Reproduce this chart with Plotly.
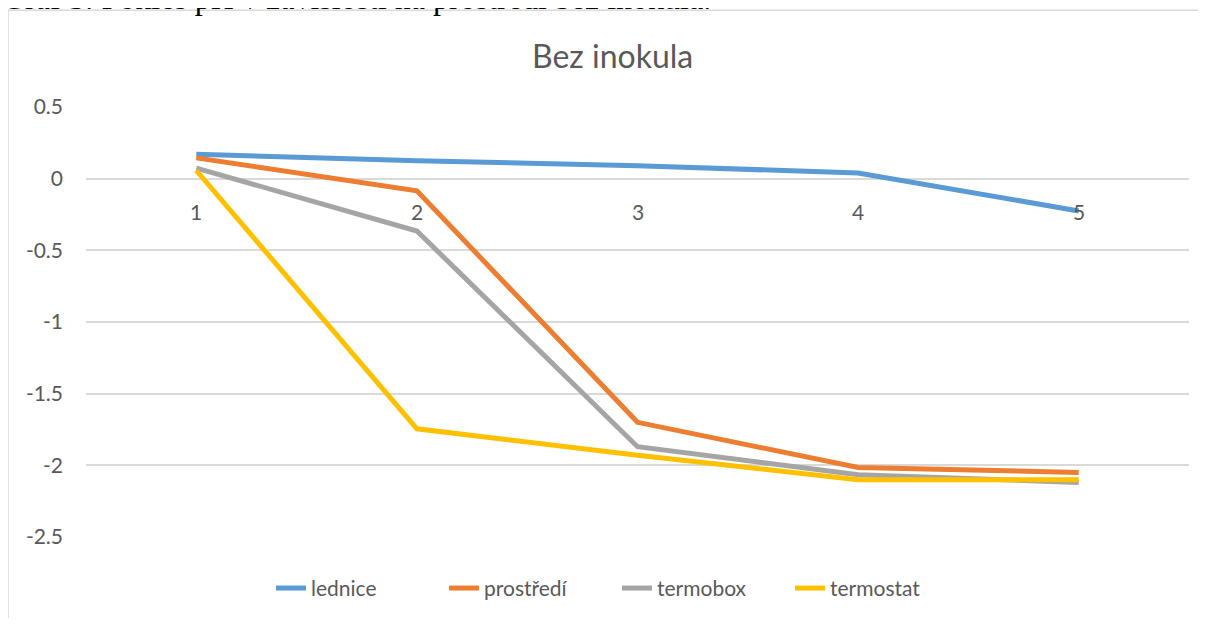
import plotly.graph_objects as go

categories = [1, 2, 3, 4, 5]
cat_labels = ["1", "2", "3", "4", "5"]
lednice = [0.17, 0.125, 0.09, 0.04, -0.225]
prostredi = [0.145, -0.085, -1.70, -2.015, -2.05]
termobox = [0.074, -0.365, -1.87, -2.065, -2.12]
termostat = [0.057, -1.745, -1.93, -2.10, -2.10]
y_ticks = [0.5, 0, -0.5, -1, -1.5, -2, -2.5]
y_ticktext = ["0.5", "0", "-0.5", "-1", "-1.5", "-2", "-2.5"]

series = [
    ("lednice", lednice, "#5B9BD5"),
    ("prostředí", prostredi, "#ED7D31"),
    ("termobox", termobox, "#A5A5A5"),
    ("termostat", termostat, "#FFC000"),
]

# page has an 8px body margin; work in page pixels, convert to figure pixels
OFF = 8
W, H = 1206 - 2 * OFF, 626 - 2 * OFF
PL, PR, PT, PB = 86, 1189, 107, 542  # plot area in page pixels
ML = PL - OFF
MR = W - (PR - OFF)
MT = PT - OFF
MB = H - (PB - OFF)
plot_w = PR - PL
plot_h = PB - PT

def px_to_paper_x(px):
    return (px - PL) / plot_w

def px_to_paper_y(py):
    return (PB - py) / plot_h

fig = go.Figure()
for name, vals, col in series:
    fig.add_trace(go.Scatter(
        x=categories, y=vals, mode="lines", name=name,
        line=dict(color=col, width=5),
        hoverinfo="skip",
    ))

annotations = []
for c, lab in zip(categories, cat_labels):
    annotations.append(dict(
        x=c, y=0, xref="x", yref="y", text=lab, showarrow=False,
        yanchor="middle", yshift=-33,
        font=dict(family="Lato", size=21, color="#595959"),
    ))
annotations.append(dict(
    x=px_to_paper_x(612), y=px_to_paper_y(55), xref="paper", yref="paper",
    text="Bez inokula", showarrow=False, xanchor="center", yanchor="middle",
    font=dict(family="Lato", size=32, color="#595959"),
))
annotations.append(dict(
    x=px_to_paper_x(0), y=px_to_paper_y(17), xref="paper", yref="paper",
    text="Graf 5: Pokles pH v závislosti na prostředí bez inokula.",
    showarrow=False, xanchor="left", yanchor="bottom",
    font=dict(family="Liberation Serif", size=32, color="#000000"),
))

shapes = [
    dict(type="line", xref="paper", yref="paper",
         x0=px_to_paper_x(8), x1=px_to_paper_x(8),
         y0=px_to_paper_y(640), y1=px_to_paper_y(9),
         line=dict(color="#D9D9D9", width=1.5)),
    dict(type="line", xref="paper", yref="paper",
         x0=px_to_paper_x(8), x1=px_to_paper_x(1220),
         y0=px_to_paper_y(9), y1=px_to_paper_y(9),
         line=dict(color="#D9D9D9", width=1.5)),
]

fig.update_layout(
    width=W, height=H,
    margin=dict(l=ML, r=MR, t=MT, b=MB, pad=0),
    paper_bgcolor="white", plot_bgcolor="white",
    showlegend=True,
    legend=dict(
        orientation="h", x=px_to_paper_x(617), xanchor="center",
        y=px_to_paper_y(594), yanchor="middle",
        font=dict(family="Lato", size=21, color="#595959"),
        bgcolor="rgba(0,0,0,0)",
        entrywidth=128, entrywidthmode="pixels",
    ),
    annotations=annotations,
    shapes=shapes,
    xaxis=dict(range=[0.5, 5.5], showgrid=False, zeroline=False,
               showticklabels=False, showline=False, fixedrange=True),
    yaxis=dict(range=[-2.5, 0.5], tickvals=y_ticks, ticktext=y_ticktext,
               showgrid=True, gridcolor="#D9D9D9", gridwidth=1.5,
               zeroline=False, showline=False, ticks="",
               ticklabelstandoff=22,
               tickfont=dict(family="Lato", size=21, color="#595959")),
    hovermode=False,
)

fig.write_html("out.html")
